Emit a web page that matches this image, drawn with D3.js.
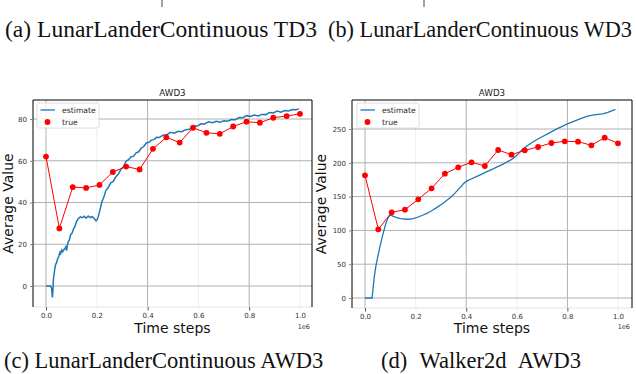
<!DOCTYPE html>
<html>
<head>
<meta charset="utf-8">
<script src="https://cdn.jsdelivr.net/npm/d3@7"></script>
<style>
body{margin:0;background:#fff;}
svg{display:block;}
</style>
</head>
<body>
<svg id="fig" width="636" height="374"></svg>
<script>
/* evaluation steps (x 1e6) of the red "true" points */
var steps_true = [0, 0.0526, 0.1053, 0.1579, 0.2105, 0.2632, 0.3158, 0.3684, 0.4211, 0.4737,
    0.5263, 0.5789, 0.6316, 0.6842, 0.7368, 0.7895, 0.8421, 0.8947, 0.9474, 1.0];

/* LunarLanderContinuous AWD3 */
var lunar_true = [62, 27.6, 47.4, 47, 48.4, 54.6, 57.2, 55.8, 65.7, 71.2,
    68.7, 75.8, 73.4, 72.9, 76.4, 78.7, 78.2, 80.6, 81.4, 82.5];
var lunar_est_steps = [0, 0.018, 0.022, 0.025, 0.027, 0.029, 0.032, 0.035, 0.038, 0.042,
    0.045, 0.05, 0.055, 0.058, 0.062, 0.066, 0.071, 0.075, 0.079, 0.081,
    0.084, 0.088, 0.092, 0.097, 0.102, 0.108, 0.114, 0.121, 0.127, 0.135,
    0.143, 0.15, 0.158, 0.166, 0.174, 0.182, 0.19, 0.197, 0.202, 0.208,
    0.214, 0.22, 0.228, 0.236, 0.245, 0.255, 0.265, 0.275, 0.285, 0.295,
    0.305, 0.315, 0.325, 0.335, 0.345, 0.355, 0.365, 0.375, 0.385, 0.395,
    0.405, 0.415, 0.425, 0.435, 0.445, 0.46, 0.475, 0.49, 0.505, 0.52,
    0.535, 0.55, 0.565, 0.58, 0.595, 0.61, 0.625, 0.64, 0.655, 0.67,
    0.685, 0.7, 0.715, 0.73, 0.745, 0.76, 0.775, 0.79, 0.805, 0.82,
    0.835, 0.85, 0.865, 0.88, 0.895, 0.91, 0.925, 0.94, 0.955, 0.97, 0.985, 0.995];
var lunar_est = [0, 0, -1, -5.5, -3, 3, 6, 8.5, 10.4, 11.2,
    12.8, 14.1, 16.2, 15.6, 17.2, 16.4, 17.6, 17.9, 19.2, 16.9,
    19.6, 21.3, 22.1, 24.6, 25.2, 27.3, 28.5, 31.1, 32.2, 33.1,
    32.7, 33.4, 32.5, 33.5, 32.8, 33.2, 32.3, 31.2, 31.9, 34.2,
    37.3, 40.2, 42.7, 45.8, 47.2, 49.4, 50.1, 52.4, 53.6, 55.9,
    57.1, 59.8, 60.5, 61.9, 62.2, 63.8, 64.3, 66.1, 66.8, 68.5,
    68.8, 69.9, 70.1, 71.2, 71.1, 72.2, 72.4, 73.6, 73.2, 74.1,
    73.9, 74.9, 75.1, 76.4, 76.6, 77.7, 77.6, 78.7, 78.2, 78.9,
    78.5, 79.1, 78.9, 79.7, 79.6, 80.7, 80.6, 81.6, 81.2, 81.9,
    81.5, 82.2, 82.1, 83.1, 82.9, 83.8, 83.3, 84.1, 83.8, 84.5, 84.4, 85];

/* Walker2d AWD3 */
var walker_true = [181.5, 101.6, 126.7, 130.7, 146, 162.3, 183.9, 193.3, 200.7, 195.3,
    218.9, 212, 218.5, 223.4, 229.3, 231.8, 231.3, 225.9, 237.2, 228.8];
var walker_est_steps = [0, 0.025, 0.028, 0.032, 0.037, 0.043, 0.05, 0.058, 0.066, 0.075,
    0.083, 0.09, 0.097, 0.103, 0.11, 0.12, 0.13, 0.14, 0.15, 0.16,
    0.17, 0.18, 0.19, 0.2, 0.21, 0.22, 0.23, 0.24, 0.25, 0.26,
    0.27, 0.28, 0.29, 0.3, 0.31, 0.32, 0.33, 0.34, 0.35, 0.36,
    0.37, 0.38, 0.39, 0.4, 0.41, 0.42, 0.44, 0.46, 0.48, 0.5,
    0.52, 0.54, 0.56, 0.58, 0.6, 0.62, 0.64, 0.66, 0.68, 0.7,
    0.72, 0.74, 0.76, 0.78, 0.8, 0.82, 0.84, 0.86, 0.88, 0.9,
    0.92, 0.94, 0.96, 0.98, 0.99];
var walker_est = [0, 0, 0, 15, 32, 47, 60, 74, 87, 100,
    111, 118, 122, 122.5, 121, 119.5, 118.5, 117.5, 117, 116.5,
    116.5, 116.8, 117.5, 118.5, 119.8, 121.3, 122.8, 124.5, 126.3, 128.3,
    130.5, 133, 135.5, 138, 140.6, 143.4, 146.3, 149.5, 153, 157,
    161, 165, 169.5, 172.5, 174.3, 176, 179.5, 183, 186.5, 190,
    193.5, 197, 201, 205, 211, 219, 225, 230, 234.5, 238.5,
    242.5, 246.5, 250.5, 254, 257.5, 260.5, 263.5, 266.5, 269, 270.5,
    271.5, 272.5, 274.5, 277.5, 279];

var xticks = [0, 0.2, 0.4, 0.6, 0.8, 1.0];
var xticks_strong = [0, 0.4, 0.8];
var lunar_yticks = [0, 20, 40, 60, 80];
var walker_yticks = [0, 50, 100, 150, 200, 250];
var series_names = ["estimate", "true"];
var top_captions = ["(a) LunarLanderContinuous TD3", "(b) LunarLanderContinuous WD3"];
var bottom_captions = ["(c) LunarLanderContinuous AWD3", "(d) Walker2d AWD3"];

var svg = d3.select("#fig");
svg.append("rect").attr("width", 636).attr("height", 374).attr("fill", "#fff");

/* draws one panel */
function drawPanel(p){
    var g = svg.append("g");
    var x = d3.scaleLinear().domain([0, 1]).range([p.x0, p.x1]);
    var y = d3.scaleLinear().domain([0, p.yref]).range([p.y0, p.y1]);

    // grid
    g.selectAll(".vg").data(xticks).enter().append("line")
        .attr("x1", function(d){return x(d);}).attr("x2", function(d){return x(d);})
        .attr("y1", p.top).attr("y2", p.bottom)
        .attr("stroke", function(d){return xticks_strong.indexOf(d) >= 0 ? "#b0b0b0" : "#efefef";})
        .attr("stroke-width", 1);
    g.selectAll(".hg").data(p.yticks).enter().append("line")
        .attr("x1", p.left).attr("x2", p.right)
        .attr("y1", function(d){return y(d);}).attr("y2", function(d){return y(d);})
        .attr("stroke", "#b0b0b0").attr("stroke-width", 1);

    // estimate line
    var est = p.estSteps.map(function(s, i){return [s, p.est[i]];});
    g.append("path").datum(est)
        .attr("d", d3.line().x(function(d){return x(d[0]);}).y(function(d){return y(d[1]);}))
        .attr("fill", "none").attr("stroke", "#1f77b4").attr("stroke-width", p.estWidth);

    // true line + markers
    var tr = steps_true.map(function(s, i){return [s, p.tru[i]];});
    g.append("path").datum(tr)
        .attr("d", d3.line().x(function(d){return x(d[0]);}).y(function(d){return y(d[1]);}))
        .attr("fill", "none").attr("stroke", "#ff0000").attr("stroke-width", 1);
    g.selectAll(".pt").data(tr).enter().append("circle")
        .attr("cx", function(d){return x(d[0]);}).attr("cy", function(d){return y(d[1]);})
        .attr("r", 2.9).attr("fill", "#ff0000");

    // spines
    g.append("line").attr("x1", p.left).attr("x2", p.right).attr("y1", p.bottom).attr("y2", p.bottom)
        .attr("stroke", "#e4e4e4").attr("stroke-width", 1);
    g.append("path").attr("d", "M" + p.left + "," + p.bottom + "V" + p.top + "H" + p.right + "V" + p.bottom)
        .attr("fill", "none").attr("stroke", "#000").attr("stroke-width", 1);

    // axes
    var ay = g.append("g").attr("transform", "translate(" + p.left + ",0)")
        .call(d3.axisLeft(y).tickValues(p.yticks).tickSize(3).tickPadding(3).tickFormat(d3.format("d")));
    ay.select(".domain").remove();
    ay.selectAll("line").attr("stroke", "#888");
    ay.selectAll("text").style("font", "7px 'DejaVu Sans'").attr("fill", "#333");

    var ax = g.append("g").attr("transform", "translate(0," + p.bottom + ")")
        .call(d3.axisBottom(x).tickValues(xticks).tickSize(3.5).tickPadding(3).tickFormat(d3.format(".1f")));
    ax.select(".domain").remove();
    ax.selectAll("line").attr("stroke", function(d){return xticks_strong.indexOf(d) >= 0 ? "#555" : "#eee";});
    ax.selectAll("text").style("font", "7px 'DejaVu Sans'").attr("fill", "#333");

    g.append("text").attr("x", p.right - 2).attr("y", 329).attr("text-anchor", "end")
        .style("font", "6.5px 'DejaVu Sans'").attr("fill", "#333").text("1e6");

    // title and labels
    g.append("text").attr("x", (p.left + p.right) / 2).attr("y", 95.5).attr("text-anchor", "middle")
        .style("font", "8.7px 'DejaVu Sans'").attr("fill", "#222").text("AWD3");
    g.append("text").attr("x", (p.left + p.right) / 2).attr("y", 333).attr("text-anchor", "middle")
        .style("font", "14px 'DejaVu Sans'").attr("fill", "#111").text("Time steps");
    g.append("text").attr("transform", "translate(" + p.ylabX + "," + ((p.top + p.bottom) / 2) + ") rotate(-90)")
        .attr("text-anchor", "middle").style("font", "14px 'DejaVu Sans'").attr("fill", "#111")
        .text("Average Value");

    // legend
    var lg = g.append("g").attr("transform", "translate(" + p.legX + "," + p.legY + ")");
    lg.append("rect").attr("width", 62).attr("height", 25).attr("rx", 2)
        .attr("fill", "#fff").attr("fill-opacity", 0.85).attr("stroke", "#d6d6d6").attr("stroke-width", 0.8);
    lg.append("line").attr("x1", 3.5).attr("x2", 18).attr("y1", 7).attr("y2", 7)
        .attr("stroke", "#1f77b4").attr("stroke-width", 1.3);
    lg.append("circle").attr("cx", 10.5).attr("cy", 19).attr("r", 2.9).attr("fill", "#ff0000");
    lg.selectAll(".lt").data(series_names).enter().append("text")
        .attr("x", 25).attr("y", function(d, i){return 9.6 + i * 12;})
        .style("font", "7.7px 'DejaVu Sans'").attr("fill", "#222")
        .text(function(d){return d;});
}

drawPanel({left: 33, right: 312, top: 100, bottom: 307, x0: 46, x1: 300,
    y0: 286, y1: 119, yref: 80, yticks: lunar_yticks,
    est: lunar_est, estSteps: lunar_est_steps, tru: lunar_true, estWidth: 1.5,
    ylabX: 13, legX: 37, legY: 103});
drawPanel({left: 352, right: 632, top: 100, bottom: 308, x0: 365, x1: 618,
    y0: 298, y1: 129, yref: 250, yticks: walker_yticks,
    est: walker_est, estSteps: walker_est_steps, tru: walker_true, estWidth: 1.3,
    ylabX: 326, legX: 357, legY: 103});

// bits of the figure above
svg.selectAll(".cut").data([162, 424]).enter().append("line")
    .attr("x1", function(d){return d;}).attr("x2", function(d){return d;})
    .attr("y1", 0).attr("y2", 7).attr("stroke", "#444").attr("stroke-width", 1);

// captions
svg.selectAll(".capT").data(top_captions).enter().append("text")
    .attr("x", function(d, i){return i == 0 ? 5 : 328;}).attr("y", 37)
    .attr("textLength", function(d, i){return i == 0 ? 312 : 304;})
    .attr("lengthAdjust", "spacingAndGlyphs")
    .style("font", "22.3px 'Liberation Serif'").attr("fill", "#111")
    .text(function(d){return d;});
svg.selectAll(".capB").data(bottom_captions).enter().append("text")
    .attr("x", function(d, i){return i == 0 ? 4 : 481;}).attr("y", 368)
    .attr("text-anchor", function(d, i){return i == 0 ? "start" : "middle";})
    .attr("word-spacing", function(d, i){return i == 0 ? 0 : 7;})
    .style("font", "22.5px 'Liberation Serif'").attr("fill", "#111")
    .text(function(d){return d;});
</script>
</body>
</html>
